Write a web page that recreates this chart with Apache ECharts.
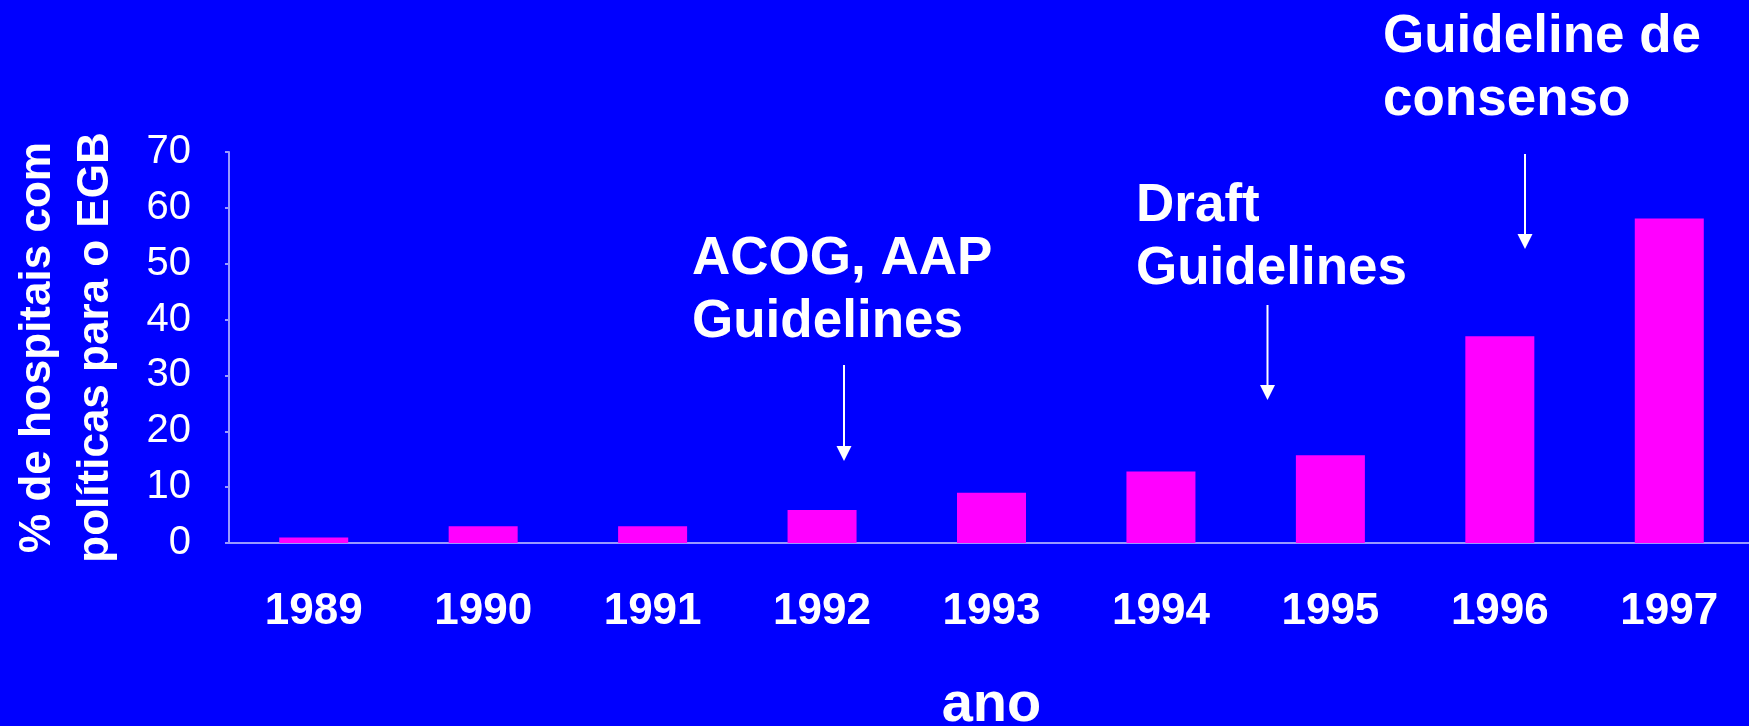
<!DOCTYPE html>
<html>
<head>
<meta charset="utf-8">
<script src="https://cdn.jsdelivr.net/npm/echarts@6/dist/echarts.min.js"></script>
<style>
  html, body { margin: 0; padding: 0; background: #0000ff; }
  #chart { width: 1749px; height: 726px; }
</style>
</head>
<body>
<div id="chart"></div>
<script>
// dados
const years = ['1989', '1990', '1991', '1992', '1993', '1994', '1995', '1996', '1997']
const hospitalPct = [1, 3, 3, 5.9, 9, 12.8, 15.7, 37, 58.1]
const notes = ['ACOG, AAP\nGuidelines', 'Draft\nGuidelines', 'Guideline de\nconsenso']

const font = '"Liberation Sans", Arial, sans-serif'
const axisColor = '#9999ff'

const chart = echarts.init(document.getElementById('chart'))

// setas das anotações
function arrow(x, yStart, yEnd) {
  return [{
    type: 'line',
    shape: { x1: x, y1: yStart, x2: x, y2: yEnd - 14 },
    style: { stroke: '#fff', lineWidth: 2 }
  }, {
    type: 'polygon',
    shape: { points: [[x - 7.5, yEnd - 15], [x + 7.5, yEnd - 15], [x, yEnd]] },
    style: { fill: '#fff' }
  }]
}

function note(text, x, y) {
  return {
    type: 'text',
    x: x,
    y: y,
    style: {
      text: text,
      fill: '#fff',
      font: 'bold 53px ' + font,
      lineHeight: 63
    }
  }
}

chart.setOption({
  backgroundColor: '#0000ff',
  animation: false,
  grid: { left: 229, top: 152, width: 1525, height: 391, outerBoundsMode: 'none' },
  xAxis: {
    type: 'category',
    data: years,
    name: 'ano',
    nameLocation: 'middle',
    nameGap: 135,
    nameTextStyle: { color: '#fff', fontSize: 56, fontWeight: 'bold', fontFamily: font },
    axisLine: { lineStyle: { color: axisColor, width: 2 } },
    axisTick: { length: 13, lineStyle: { color: axisColor, width: 2 } },
    axisLabel: { color: '#fff', fontSize: 44, fontWeight: 'bold', fontFamily: font, margin: 47 }
  },
  yAxis: {
    type: 'value',
    min: 0,
    max: 70,
    interval: 10,
    name: '% de hospitais com\npolíticas para o EGB',
    nameLocation: 'middle',
    nameRotate: 90,
    nameGap: 104,
    nameTextStyle: { color: '#fff', fontSize: 44, fontWeight: 'bold', fontFamily: font, lineHeight: 58 },
    axisLine: { show: true, lineStyle: { color: axisColor, width: 2 } },
    axisTick: { show: true, length: 4, lineStyle: { color: axisColor, width: 2 } },
    splitLine: { show: false },
    axisLabel: { color: '#fff', fontSize: 40, fontFamily: font, margin: 38 }
  },
  series: [{
    type: 'bar',
    data: hospitalPct,
    barWidth: 69,
    itemStyle: { color: '#ff00ff' }
  }],
  graphic: [
    note(notes[0], 692, 228),
    note(notes[1], 1136, 175),
    note(notes[2], 1383, 6),
    ...arrow(844, 365, 461),
    ...arrow(1267.5, 305, 400),
    ...arrow(1525, 154, 249)
  ]
})
</script>
</body>
</html>
